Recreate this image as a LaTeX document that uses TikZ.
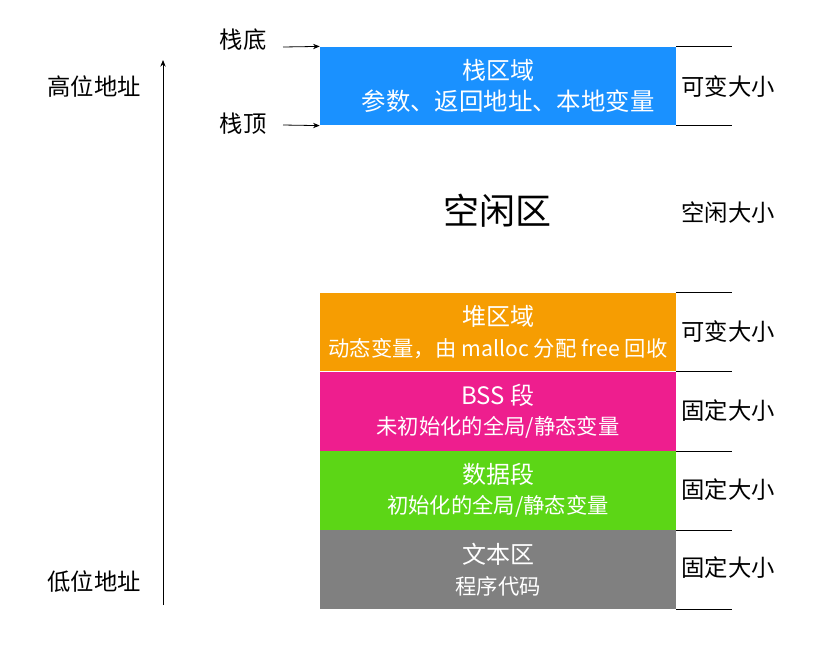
\documentclass[tikz,border=0pt]{standalone}
\usepackage{fontspec}
\setmainfont{Noto Sans CJK SC}
\usetikzlibrary{arrows.meta,positioning}
\definecolor{StackBlue}{RGB}{26,145,255}
\definecolor{HeapOrange}{RGB}{246,157,2}
\definecolor{BssPink}{RGB}{238,30,142}
\definecolor{DataGreen}{RGB}{92,214,22}
\definecolor{TextGray}{RGB}{128,128,128}
\newcommand{\segsub}{\fontsize{16}{23}\selectfont}

\tikzset{
	seg/.style={draw=none, text=white, minimum width=267pt, minimum height=59pt,
		inner sep=0pt, align=center, font=\fontsize{18}{23}\selectfont},
	sizelabel/.style={font=\fontsize{17.5}{20}\selectfont},
	addrlabel/.style={font=\fontsize{17.5}{20}\selectfont},
	arr/.style={-{Stealth[length=5pt,width=4pt]}, semithick}
}

\begin{document}
\begin{tikzpicture}[x=0.75pt, y=-0.75pt]
	\useasboundingbox (0,0) rectangle (820,644);
	
	% 地址方向
	\coordinate (low) at (163,605);
	\coordinate (high) at (163,60);
	\draw[arr] (low) -- (high);
	\node[addrlabel] (hi) at (94,87) {高位地址};
	\node[addrlabel] (lo) at (94,582) {低位地址};
	
	% 栈区
	\node[seg, fill=StackBlue] (stack) at (498,86) {栈区域\\\hspace*{15pt}\fontsize{18.3}{23}\selectfont 参数、返回地址、本地变量};
	\node[addrlabel] (sb) at (243,40) {栈底};
	\node[addrlabel] (st) at (243,124) {栈顶};
	\coordinate (sbin) at (283,47);
	\coordinate (stin) at (283,125);
	\draw[arr] (sbin) -- (stack.north west);
	\draw[arr] (stin) -- (stack.south west);
	
	% 空闲区
	\node[font=\fontsize{27}{30}\selectfont] (free) at (497,211) {空闲区};
	
	% 其余各段
	\node[seg, fill=HeapOrange] (heap) at (498,332) {堆区域\\\segsub 动态变量，由 malloc 分配 free 回收};
	\node[seg, fill=BssPink, below=0pt of heap] (bss) {BSS 段\\\segsub 未初始化的全局/静态变量};
	\node[seg, fill=DataGreen, below=0pt of bss] (data) {数据段\\\segsub 初始化的全局/静态变量};
	\node[seg, fill=TextGray, below=0pt of data] (text) {文本区\\\segsub 程序代码};
	
	% 右侧分隔线
	\foreach \n in {stack,heap,bss,data,text}
		\draw (\n.north east) -- ++(56,0);
	\draw (stack.south east) -- ++(56,0);
	\draw (text.south east) -- ++(56,0);
	
	% 大小标注
	\node[sizelabel] (s1) at (728,87) {可变大小};
	\node[sizelabel] (s2) at (728,213) {空闲大小};
	\node[sizelabel] (s3) at (728,332) {可变大小};
	\node[sizelabel] (s4) at (728,411) {固定大小};
	\node[sizelabel] (s5) at (728,490) {固定大小};
	\node[sizelabel] (s6) at (728,568) {固定大小};
\end{tikzpicture}
\end{document}
